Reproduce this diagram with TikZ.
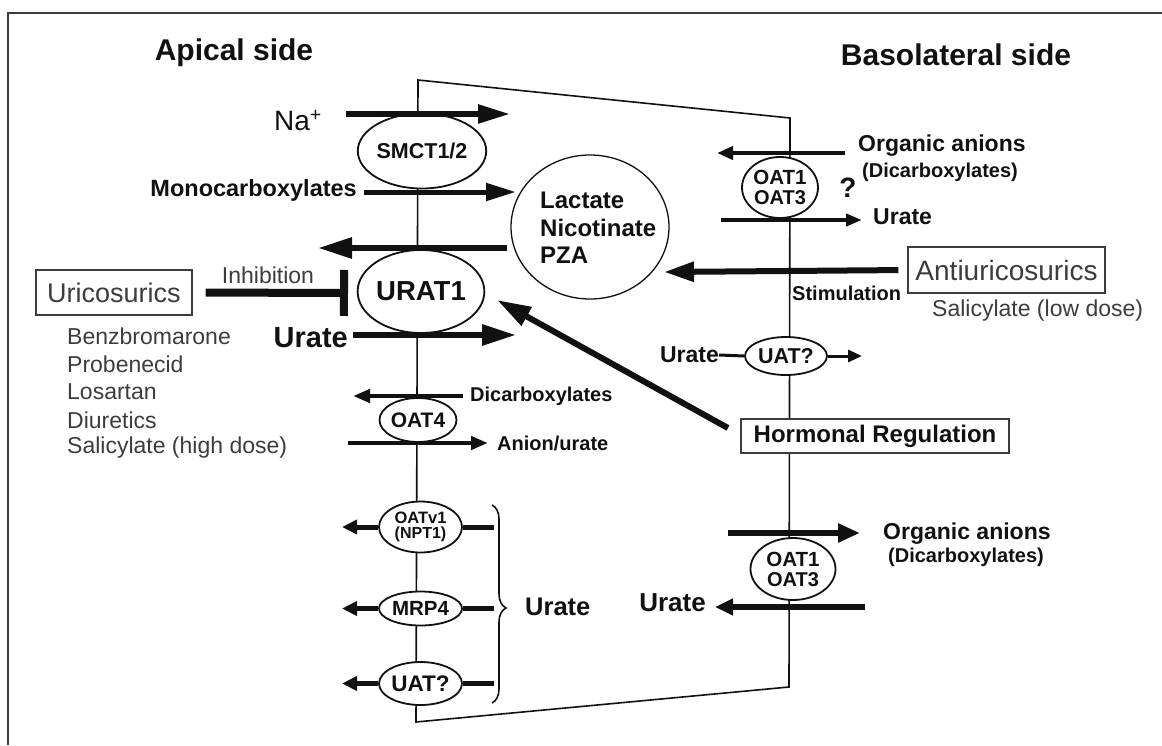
\documentclass[tikz,border=0pt]{standalone}
\usepackage{fontspec}
\setmainfont{Liberation Sans}
\usetikzlibrary{arrows.meta,shapes.geometric,decorations.pathreplacing}
\newcommand\fsz[1]{\fontsize{#1}{#1}\selectfont}
\definecolor{ink}{HTML}{111111}
\definecolor{greyink}{HTML}{3C3C3C}
\tikzset{
  memb/.style={line width=1.6pt, draw=ink},
  trans/.style={ellipse, draw=ink, line width=1.8pt, fill=white, inner sep=0pt, font=\bfseries, text=ink},
  lbox/.style={draw=greyink, line width=1.3pt, fill=white, inner sep=0pt},
  lab/.style={inner sep=0pt, text=ink, font=\bfseries},
  glab/.style={inner sep=0pt, text=greyink},
  bigarr/.style={line width=6pt, draw=ink, -{Triangle[length=34pt,width=20pt]}},
  midarr/.style={line width=4.5pt, draw=ink, -{Triangle[length=17pt,width=13pt]}},
  smallarr/.style={line width=5pt, draw=ink, -{Triangle[length=15pt,width=14pt]}},
  plainline/.style={line width=5pt, draw=ink},
}
\begin{document}
\begin{tikzpicture}[x=1pt,y=-1pt]
\useasboundingbox (0,0) rectangle (1162,745);
% frame
\coordinate (fr1) at (1162,13);
\coordinate (fr2) at (8,13);
\coordinate (fr3) at (8,745);
\draw[line width=2pt, draw=greyink] (fr1) -- (fr2) -- (fr3);

% titles
\node[lab, font=\bfseries\fsz{30}] (apical) at (234,53) {Apical side};
\node[lab, font=\bfseries\fsz{30}] (baso) at (956,55) {Basolateral side};

% membrane polygon
\coordinate (m1) at (418,80);
\coordinate (m2) at (790,118);
\coordinate (m3) at (789,687);
\coordinate (m4) at (416,722);
\draw[memb] (m1) -- (m2) -- (m3) -- (m4) -- cycle;

% transporters (apical)
\node[trans, minimum width=100pt, minimum height=75pt, font=\bfseries\fsz{21.5}] (smct) at (422,151) {SMCT1/2};
\node[trans, minimum width=103pt, minimum height=83pt, font=\bfseries\fsz{27.5}] (urat) at (421,291.5) {URAT1};
\node[trans, minimum width=77pt, minimum height=44pt, font=\bfseries\fsz{21}] (oat4) at (418,420) {OAT4};
\node[trans, minimum width=83pt, minimum height=51pt, font=\bfseries\fsz{16}, align=center] (oatv) at (420.5,527) {\fontsize{16.5}{15}\selectfont OATv1\\[-1pt](NPT1)};
\node[trans, minimum width=83pt, minimum height=34pt, font=\bfseries\fsz{20.5}] (mrp) at (420.5,608.5) {MRP4};
\node[trans, minimum width=83pt, minimum height=43pt, font=\bfseries\fsz{22.5}] (uata) at (420.5,683.5) {UAT?};

% transporters (basolateral)
\node[trans, minimum width=76pt, minimum height=61pt, font=\bfseries\fsz{20}, align=center] (oatt) at (780,187.5) {\fontsize{20.5}{22}\selectfont OAT1\\OAT3};
\node[trans, minimum width=82pt, minimum height=38pt, font=\bfseries\fsz{21.5}] (uatb) at (786,356) {UAT?};
\node[trans, minimum width=85pt, minimum height=62pt, font=\bfseries\fsz{20}, align=center] (oatl) at (793,569) {\fontsize{20.5}{22}\selectfont OAT1\\OAT3};

% cytosolic pool
\node[ellipse, draw=ink, line width=1.3pt, fill=white, minimum width=158pt, minimum height=144pt, inner sep=0pt] (pool) at (590,227) {};
\node[lab, font=\bfseries\fsz{24}, anchor=west] (lac) at (540,200) {Lactate};
\node[lab, font=\bfseries\fsz{24}, anchor=west] (nic) at (540,228) {Nicotinate};
\node[lab, font=\bfseries\fsz{24}, anchor=west] (pza) at (540,255) {PZA};

% boxes
\node[lbox, minimum width=156pt, minimum height=45pt, text=greyink, font=\fsz{27}] (uric) at (114,292.5) {Uricosurics};
\node[lbox, minimum width=197pt, minimum height=46pt, text=greyink, font=\fsz{28}] (anti) at (1006.5,270) {Antiuricosurics};
\node[lbox, minimum width=268pt, minimum height=34pt, text=ink, font=\bfseries\fsz{24}] (horm) at (875,436) {Hormonal Regulation};

% labels apical
\node[glab, text=ink, font=\fsz{28}, anchor=east] (na) at (322,120) {Na\textsuperscript{+}};
\node[lab, font=\bfseries\fsz{23.5}, anchor=east] (mono) at (357,190) {Monocarboxylates};
\node[lab, font=\bfseries\fsz{29}, anchor=east] (urA) at (348,338) {Urate};
\node[glab, font=\fsz{23}] (inh) at (268,275) {Inhibition};
\node[glab, font=\fsz{23}, anchor=west] (d1) at (67,336) {Benzbromarone};
\node[glab, font=\fsz{23}, anchor=west] (d2) at (67,364) {Probenecid};
\node[glab, font=\fsz{23}, anchor=west] (d3) at (67,392) {Losartan};
\node[glab, font=\fsz{23}, anchor=west] (d4) at (67,420) {Diuretics};
\node[glab, font=\fsz{23}, anchor=west] (d5) at (67,448) {Salicylate (high dose)};
\node[lab, font=\bfseries\fsz{20}, anchor=west] (dic) at (470,396) {Dicarboxylates};
\node[lab, font=\bfseries\fsz{20}, anchor=west] (anu) at (497,443) {Anion/urate};
\node[lab, font=\bfseries\fsz{25.5}, anchor=west] (urB) at (525,607) {Urate};

% labels basolateral
\node[lab, font=\bfseries\fsz{23}, anchor=west] (oa1) at (858,146) {Organic anions};
\node[lab, font=\bfseries\fsz{20}, anchor=west] (dc1) at (862,172) {(Dicarboxylates)};
\node[lab, font=\bfseries\fsz{28}] (q) at (848,188) {?};
\node[lab, font=\bfseries\fsz{23}, anchor=west] (ur1) at (873,217) {Urate};
\node[lab, font=\bfseries\fsz{20}, anchor=west] (stim) at (792,293) {Stimulation};
\node[glab, font=\fsz{23}, anchor=west] (sal) at (932,311) {Salicylate (low dose)};
\node[lab, font=\bfseries\fsz{23}, anchor=east] (ur2) at (719,355) {Urate};
\node[lab, font=\bfseries\fsz{23}, anchor=west] (oa2) at (883,534) {Organic anions};
\node[lab, font=\bfseries\fsz{20}, anchor=west] (dc2) at (888,557) {(Dicarboxylates)};
\node[lab, font=\bfseries\fsz{26}, anchor=east] (ur3) at (706,603) {Urate};

% ---- arrows apical
\coordinate (naS) at (346,114); \coordinate (naE) at (510,114);
\draw[line width=5.5pt, draw=ink, -{Triangle[length=32pt,width=18pt]}] (naS) -- (naE);
\coordinate (moS) at (364,192); \coordinate (moE) at (516,192);
\draw[line width=5pt, draw=ink, -{Triangle[length=30pt,width=17pt]}] (moS) -- (moE);
\coordinate (uoS) at (507,248); \coordinate (uoE) at (318,248);
\draw[bigarr] (uoS) -- (uoE);
\coordinate (uiS) at (353,335); \coordinate (uiE) at (516,335);
\draw[bigarr] (uiS) -- (uiE);
\coordinate (inhT) at (348,293);
\draw[line width=8pt, draw=ink, shorten <=13pt, -{Bar[width=46pt]}] (uric.east) -- (inhT);
\coordinate (dcS) at (463,396); \coordinate (dcE) at (353,396);
\draw[midarr] (dcS) -- (dcE);
\coordinate (auS) at (348,443); \coordinate (auE) at (488,443);
\draw[midarr] (auS) -- (auE);
% efflux transporters
\coordinate (v1L) at (342,527); \coordinate (v1R) at (494,527);
\draw[smallarr] (oatv.west) -- (v1L);
\draw[plainline] (oatv.east) -- (v1R);
\coordinate (v2L) at (342,608.5); \coordinate (v2R) at (494,608.5);
\draw[smallarr] (mrp.west) -- (v2L);
\draw[plainline] (mrp.east) -- (v2R);
\coordinate (v3L) at (342,683.5); \coordinate (v3R) at (494,683.5);
\draw[smallarr] (uata.west) -- (v3L);
\draw[plainline] (uata.east) -- (v3R);
\coordinate (br1) at (492,505); \coordinate (br2) at (492,703);
\draw[line width=1.6pt, draw=ink, decorate, decoration={brace, amplitude=14pt, aspect=0.52}] (br1) -- (br2);

% ---- arrows basolateral
\coordinate (o1S) at (845,153); \coordinate (o1E) at (717,153);
\draw[line width=4.5pt, draw=ink, -{Triangle[length=16pt,width=13pt]}] (o1S) -- (o1E);
\coordinate (u1S) at (721,220); \coordinate (u1E) at (862,220);
\draw[line width=4pt, draw=ink, -{Triangle[length=16pt,width=12pt]}] (u1S) -- (u1E);
\coordinate (stE) at (664,272);
\draw[line width=6pt, draw=ink, shorten <=9pt, -{Triangle[length=30pt,width=19pt]}] (anti.west) -- (stE);
\draw[line width=3pt, draw=ink] (ur2.east) -- (uatb.west);
\coordinate (u2E) at (862,356);
\draw[line width=3pt, draw=ink, -{Triangle[length=14pt,width=12pt]}] (uatb.east) -- (u2E);
\coordinate (hS) at (728,428); \coordinate (hE) at (497,300);
\draw[line width=6pt, draw=ink, -{Triangle[length=34pt,width=20pt]}] (hS) -- (hE);
\coordinate (o2S) at (728,533); \coordinate (o2E) at (860,533);
\draw[line width=6pt, draw=ink, -{Triangle[length=22pt,width=18pt]}] (o2S) -- (o2E);
\coordinate (u3S) at (865,607); \coordinate (u3E) at (715,607);
\draw[line width=6pt, draw=ink, -{Triangle[length=18pt,width=16pt]}] (u3S) -- (u3E);
\end{tikzpicture}
\end{document}
